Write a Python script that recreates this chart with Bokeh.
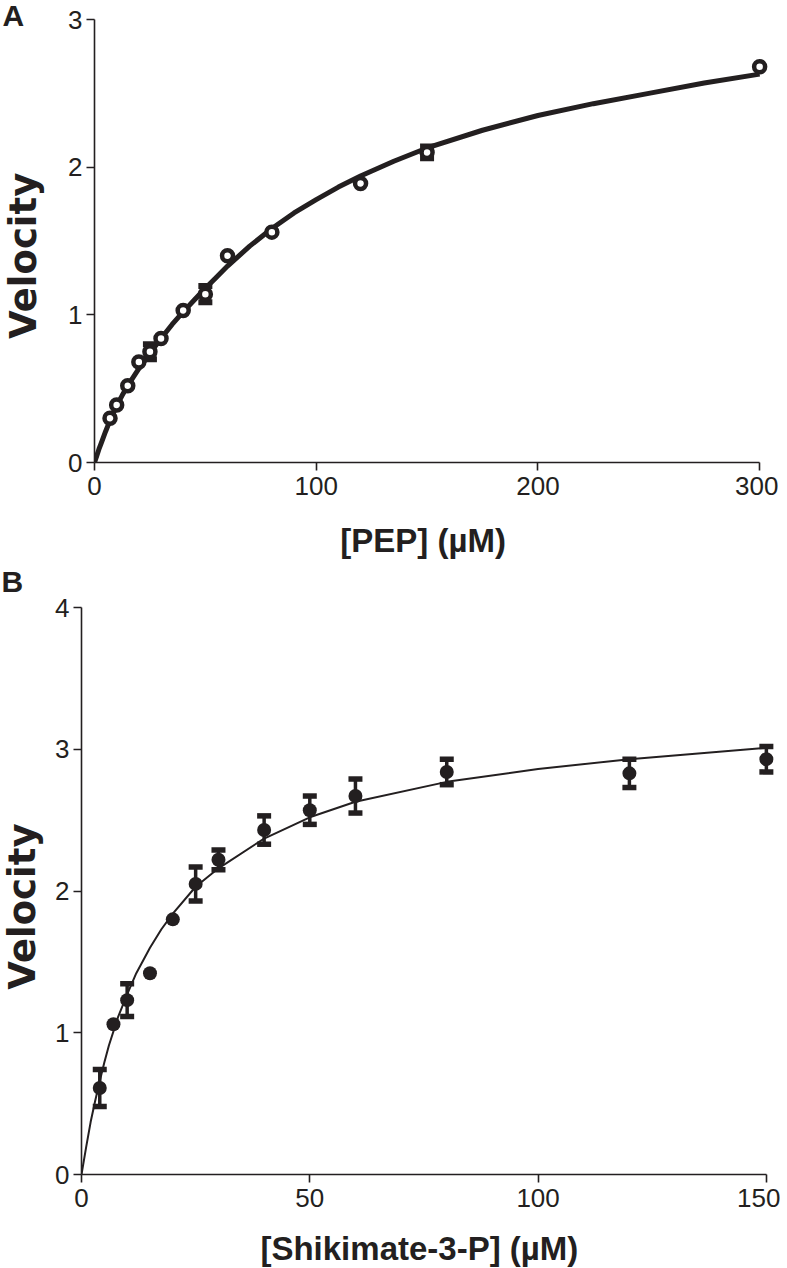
import math
from bokeh.plotting import figure
from bokeh.models import Label, FixedTicker, Range1d
from bokeh.embed import file_html
from bokeh.resources import INLINE

# ---------------- data ----------------
# Panel A : PEP
pep_conc = [7, 10, 15, 20, 25, 30, 40, 50, 60, 80, 120, 150, 300]
pep_vel = [0.30, 0.39, 0.52, 0.68, 0.75, 0.84, 1.03, 1.14, 1.40, 1.56, 1.89, 2.10, 2.68]
pep_err = [0, 0, 0, 0, 0.05, 0, 0, 0.055, 0, 0, 0, 0.04, 0]
pep_fit_x = [0, 1, 2, 3, 5, 7, 10, 12.5, 15, 20, 25, 30, 35, 40, 45, 50, 55, 60, 70, 80,
             90, 100, 110, 120, 135, 150, 175, 200, 225, 250, 275, 300]
pep_fit_v = [0, 0.045, 0.09, 0.13, 0.21, 0.285, 0.385, 0.455, 0.52, 0.635, 0.74, 0.84,
             0.935, 1.02, 1.10, 1.18, 1.255, 1.33, 1.465, 1.585, 1.69, 1.78, 1.865, 1.94,
             2.04, 2.13, 2.25, 2.35, 2.43, 2.50, 2.57, 2.63]
pep_xticks = [0, 100, 200, 300]
pep_yticks = [0, 1, 2, 3]

# Panel B : Shikimate-3-P
s3p_conc = [4, 7, 10, 15, 20, 25, 30, 40, 50, 60, 80, 120, 150]
s3p_vel = [0.61, 1.06, 1.23, 1.42, 1.80, 2.05, 2.22, 2.43, 2.57, 2.67, 2.84, 2.83, 2.93]
s3p_err = [0.13, 0, 0.115, 0, 0, 0.12, 0.07, 0.10, 0.10, 0.12, 0.09, 0.10, 0.09]
s3p_fit_x = [0, 1, 2, 3, 4, 5, 6, 8, 10, 12, 15, 17.5, 20, 25, 30, 40, 50, 60, 80, 100,
             120, 150]
s3p_fit_v = [0, 0.19, 0.37, 0.52, 0.66, 0.79, 0.91, 1.11, 1.27, 1.42, 1.60, 1.73, 1.84,
             2.03, 2.16, 2.37, 2.52, 2.63, 2.77, 2.86, 2.93, 3.01]
s3p_xticks = [0, 50, 100, 150]
s3p_yticks = [0, 1, 2, 3, 4]

INK = "#231f20"
TICK_FONT = "Liberation Sans"
XLAB_FONT = "Liberation Sans"
YLAB_FONT = "DejaVu Sans"


def style(p, xticks, yticks):
    p.outline_line_color = None
    p.grid.grid_line_color = None
    p.background_fill_color = "white"
    p.border_fill_color = "white"
    for ax, t in ((p.xaxis[0], xticks), (p.yaxis[0], yticks)):
        ax.ticker = FixedTicker(ticks=t)
        ax.bounds = (t[0], t[-1])
        ax.axis_line_color = INK
        ax.axis_line_width = 1.6
        ax.major_tick_line_color = INK
        ax.major_tick_line_width = 1.6
        ax.major_tick_out = 8
        ax.major_tick_in = 0
        ax.minor_tick_line_color = None
        ax.major_label_text_font = TICK_FONT
        ax.major_label_text_font_size = "26px"
        ax.major_label_text_color = INK
        ax.axis_label = None
    p.xaxis[0].major_label_standoff = 6
    p.yaxis[0].major_label_standoff = 4


def lbl(p, side, x, y, text, xo, yo, font, size, angle=0.0, align="left"):
    p.add_layout(Label(x=x, y=y, text=text, x_offset=xo, y_offset=yo, angle=angle,
                       text_font=font, text_font_size=size, text_font_style="bold",
                       text_color=INK, text_align=align, text_baseline="alphabetic"),
                 side)


# ---------------- Panel A ----------------
pA = figure(width=778, height=560, output_backend="svg", toolbar_location=None,
            x_range=Range1d(0, 304), y_range=Range1d(0, 3),
            min_border_left=93, min_border_right=10, min_border_top=19, min_border_bottom=98)
style(pA, pep_xticks, pep_yticks)
pA.line(pep_fit_x, pep_fit_v, line_color=INK, line_width=5)
ex = [x for x, e in zip(pep_conc, pep_err) if e > 0]
elo = [v - e for v, e in zip(pep_vel, pep_err) if e > 0]
ehi = [v + e for v, e in zip(pep_vel, pep_err) if e > 0]
pA.segment(ex, elo, ex, ehi, line_color=INK, line_width=4)
pA.scatter(ex + ex, elo + ehi, marker="dash", size=14, line_width=6, line_color=INK)
pA.scatter(pep_conc, pep_vel, marker="circle", size=11, line_width=4.5,
           line_color=INK, fill_color="white")
lbl(pA, "left", 0, 3, "A", -92, 4, "Liberation Sans", "30px")
lbl(pA, "left", 0, 1.40, "Velocity", -71, 0, YLAB_FONT, "37px", angle=math.pi / 2, align="center")
lbl(pA, "below", 148.2, 0, "[PEP] (\u00b5M)", 0, -78, XLAB_FONT, "33px", align="center")

# ---------------- Panel B ----------------
pB = figure(width=780, height=708, output_backend="svg", toolbar_location=None,
            x_range=Range1d(0, 152), y_range=Range1d(0, 4),
            min_border_left=81, min_border_right=5, min_border_top=47, min_border_bottom=94)
style(pB, s3p_xticks, s3p_yticks)
pB.line(s3p_fit_x, s3p_fit_v, line_color=INK, line_width=2)
bx = [x for x, e in zip(s3p_conc, s3p_err) if e > 0]
blo = [v - e for v, e in zip(s3p_vel, s3p_err) if e > 0]
bhi = [v + e for v, e in zip(s3p_vel, s3p_err) if e > 0]
pB.segment(bx, blo, bx, bhi, line_color=INK, line_width=3.5)
pB.scatter(bx + bx, blo + bhi, marker="dash", size=14, line_width=5.5, line_color=INK)
pB.scatter(s3p_conc, s3p_vel, marker="circle", size=14, line_width=0,
           line_color=INK, fill_color=INK)
lbl(pB, "above", 0, 4, "B", -80, 26, "Liberation Sans", "30px")
lbl(pB, "left", 0, 1.89, "Velocity", -59, 0, YLAB_FONT, "37px", angle=math.pi / 2, align="center")
lbl(pB, "below", 74, 0, "[Shikimate-3-P] (\u00b5M)", 0, -74, XLAB_FONT, "33px", align="center")

# two independent roots stacked on the page (no frame alignment between them)
open("out.html", "w").write(file_html([pA, pB], INLINE))
